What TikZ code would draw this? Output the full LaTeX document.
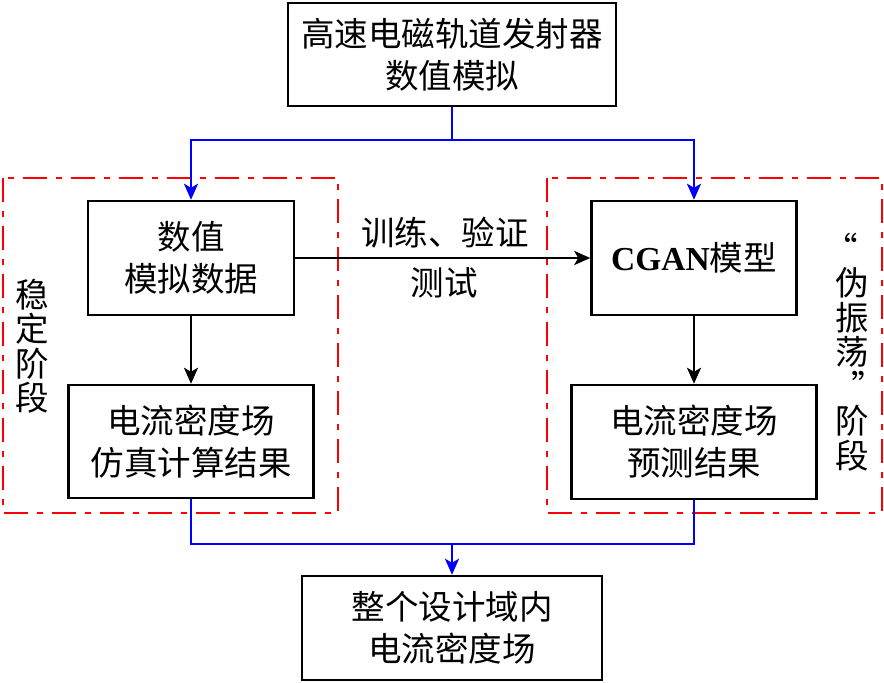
\documentclass[tikz,border=0pt]{standalone}
\usepackage{fontspec}
\setmainfont{Noto Sans CJK SC}
\newfontfamily\tnr{Liberation Serif}
\usetikzlibrary{arrows.meta}
\begin{document}
\begin{tikzpicture}[x=1pt,y=-1pt,
  txt/.style={font=\fontsize{33.5}{42}\selectfont,align=center,inner sep=0pt},
  box/.style={txt,draw,line width=2.5pt},
  vlab/.style={font=\fontsize{33.5}{34.5}\selectfont,align=center,inner sep=0pt},
  redbox/.style={draw=red,line width=2.5pt,dash pattern=on 24pt off 9pt on 6pt off 9pt},
  blueline/.style={draw=blue,line width=2.5pt},
  blackline/.style={draw=black,line width=2.5pt},
  tip/.style={-{Stealth[length=16pt,width=14pt,inset=4pt]}}
]
\useasboundingbox (0,0) rectangle (884,683);
% frames
\draw[redbox] (3,178) rectangle (338,513);
\draw[redbox] (547,178) rectangle (882,513);
% boxes
\node[box,minimum width=328pt,minimum height=103pt] (T) at (452,54.5) {高速电磁轨道发射器\\数值模拟};
\node[box,minimum width=206pt,minimum height=114pt] (A) at (191,258) {数值\\模拟数据};
\node[box,minimum width=245pt,minimum height=113pt] (B) at (191,441.5) {电流密度场\\仿真计算结果};
\node[box,minimum width=205pt,minimum height=114pt] (C) at (694,258) {{\tnr\bfseries CGAN}模型};
\node[box,minimum width=245pt,minimum height=114pt] (D) at (694,442) {电流密度场\\预测结果};
\node[box,minimum width=300pt,minimum height=104pt] (E) at (452,628) {整个设计域内\\电流密度场};
% side labels
\node[vlab] (ls) at (32,346) {稳\\定\\阶\\段};
\node[vlab] (rs) at (852,352) {\makebox[0pt]{“\hspace*{22pt}}\\伪\\振\\荡\\\makebox[0pt]{\hspace*{32pt}”}\\阶\\段};
% middle labels
\node[txt] (m1) at (445,233) {训练、验证};
\node[txt] (m2) at (444,283) {测试};
% connectors
\coordinate (tj) at (452,140);
\coordinate (bj) at (452,544);
\draw[blueline] (T.south) -- (tj);
\draw[blueline,tip] (tj) -| (A.north);
\draw[blueline,tip] (tj) -| (C.north);
\draw[blueline] (B.south) |- (bj);
\draw[blueline] (D.south) |- (bj);
\draw[blueline,tip] (bj) -- (E.north);
\draw[blackline,tip] (A.east) -- (C.west);
\draw[blackline,tip] (A.south) -- (B.north);
\draw[blackline,tip] (C.south) -- (D.north);
\end{tikzpicture}
\end{document}
